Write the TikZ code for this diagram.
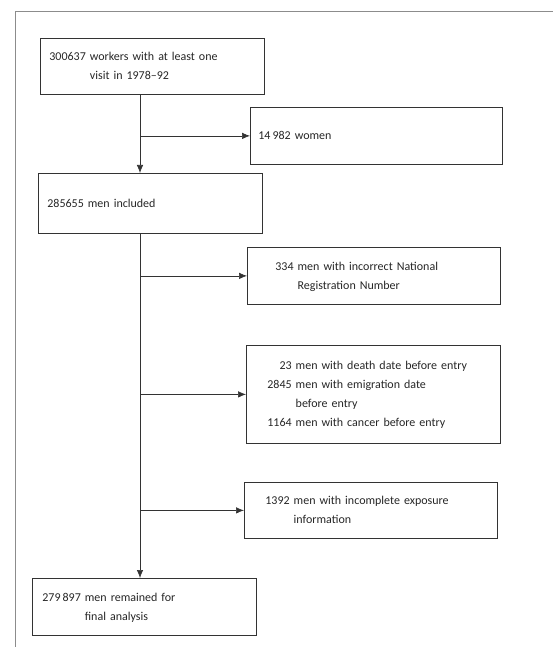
\documentclass[tikz,border=0pt]{standalone}
\usepackage{fontspec}
\setmainfont{Carlito}
\usepackage{tikz}
\usetikzlibrary{arrows.meta}
\newcommand{\numrow}[2]{\begin{tabular}{@{}r@{\ }l@{}}#1 & #2\end{tabular}}

\begin{document}
\begin{tikzpicture}[x=1pt,y=-1pt,
  box/.style={draw=black!80,line width=0.8pt,anchor=north west,align=left,text=black!85,
    font={\fontsize{12pt}{19pt}\selectfont}},
  flow/.style={draw=black!80,line width=0.7pt,-{Latex[length=8pt,width=6.5pt]}}]
\useasboundingbox (0,0) rectangle (553,647);
\draw[black!45,line width=0.6pt] (15,647) -- (15,11) -- (553,11);
\node[box,text width=206pt,inner xsep=9pt,minimum height=56pt] (top) at (40,38) {\numrow{300637}{workers with at least one\\ & visit in 1978--92}};
\node[box,text width=236pt,inner xsep=8pt,minimum height=57pt] (women) at (250,107) {14\,982 women};
\node[box,text width=206pt,inner xsep=9pt,minimum height=60pt] (incl) at (38,173) {285655 men included};
\node[box,text width=197pt,inner xsep=28pt,minimum height=57pt] (wrongnr) at (247,247) {\numrow{334}{men with incorrect National\\ & Registration Number}};
\node[box,text width=212pt,inner xsep=21pt,minimum height=98pt] (early) at (246,345) {\numrow{23}{men with death date before entry\\ 2845 & men with emigration date\\ & before entry\\ 1164 & men with cancer before entry}};
\node[box,text width=211pt,inner xsep=21pt,minimum height=56pt] (expo) at (244,482) {\numrow{1392}{men with incomplete exposure\\ & information}};
\node[box,text width=204pt,inner xsep=10pt,minimum height=57pt] (final) at (32,578) {\numrow{279\,897}{men remained for\\ & final analysis}};
\coordinate (trunk) at (140,0);
\draw[flow] (top.south -| trunk) -- (incl.north -| trunk);
\draw[flow] (incl.south -| trunk) -- (final.north -| trunk);
\draw[flow] (women.west -| trunk) -- (women.west);
\draw[flow] (wrongnr.west -| trunk) -- (wrongnr.west);
\draw[flow] (early.west -| trunk) -- (early.west);
\draw[flow] (expo.west -| trunk) -- (expo.west);
\end{tikzpicture}
\end{document}
